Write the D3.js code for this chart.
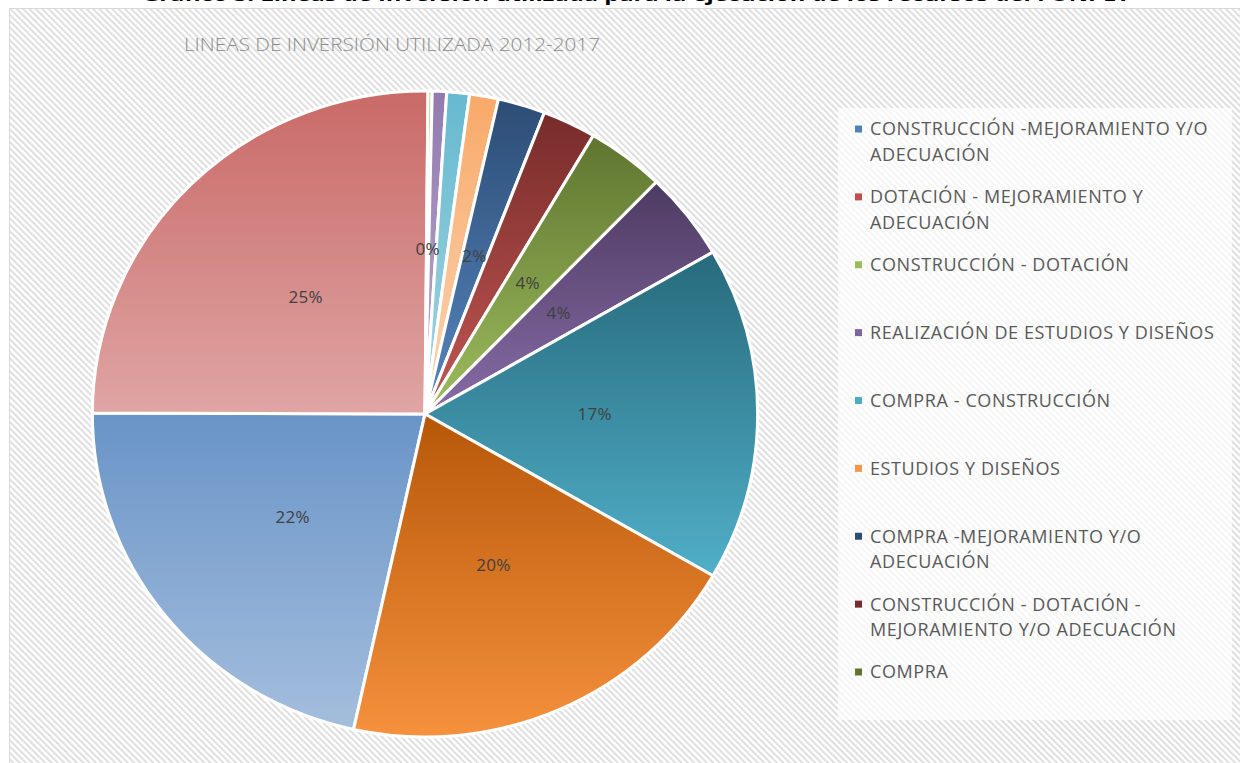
<!DOCTYPE html>
<html>
<head>
<meta charset="utf-8">
<title>Líneas de inversión utilizada 2012-2017</title>
<script src="https://d3js.org/d3.v7.min.js"></script>
<style>
	body { margin: 0; background: #ffffff; overflow: hidden; }
	svg { display: block; }
	.lbl { font-family: 'Open Sans', sans-serif; font-size: 17px; fill: #404040; letter-spacing: 0.3px; }
	.leg { font-family: 'Open Sans', sans-serif; font-size: 18px; fill: #595959; letter-spacing: 0.6px; }
</style>
</head>
<body>
<div id="chart"></div>
<script>

// legend names (the legend box only fits the first 9 entries)
var legendNames = [
	"CONSTRUCCIÓN -MEJORAMIENTO Y/O ADECUACIÓN",
	"DOTACIÓN - MEJORAMIENTO Y ADECUACIÓN",
	"CONSTRUCCIÓN - DOTACIÓN",
	"REALIZACIÓN DE ESTUDIOS Y DISEÑOS",
	"COMPRA - CONSTRUCCIÓN",
	"ESTUDIOS Y DISEÑOS",
	"COMPRA -MEJORAMIENTO Y/O ADECUACIÓN",
	"CONSTRUCCIÓN - DOTACIÓN - MEJORAMIENTO Y/O ADECUACIÓN",
	"COMPRA"
];

// share of investment per line (%)
var values = [21.6, 25.1, 0.2, 0.7, 1.1, 1.4, 2.3, 2.6, 3.8, 4.4, 16.7, 20.1];

// which slices carry a data label in the original
var showLabel = [true, true, true, false, false, false, true, false, true, true, true, true];

// office 2007 palette, points 7-12 are the darker shades
var colors = ["#4F81BD", "#C0504D", "#9BBB59", "#8064A2", "#4BACC6", "#F79646",
              "#2C4D75", "#772C2A", "#5F7530", "#4D3B62", "#276A7C", "#B65708"];

var title = "Gráfico 3. Líneas de Inversión utilizada para la ejecución de los recursos del FONPET";
var chartTitle = "LINEAS DE INVERSIÓN UTILIZADA 2012-2017";

var width = 1240, height = 763;

var svg = d3.select("#chart").append("svg")
	.attr("width", width)
	.attr("height", height);

var defs = svg.append("defs");

// diagonal hatch of the chart area
var hatch = defs.append("pattern")
	.attr("id", "hatch")
	.attr("patternUnits", "userSpaceOnUse")
	.attr("width", 4.5)
	.attr("height", 4.5)
	.attr("patternTransform", "rotate(-45)");
hatch.append("rect").attr("width", 4.5).attr("height", 4.5).attr("fill", "#ffffff");
hatch.append("rect").attr("width", 2).attr("height", 4.5).attr("fill", "#dfdfdf");

// one vertical gradient per slice, dark on top, light at the bottom
colors.forEach(function(c, i) {
	var top = d3.hsl(c), bottom = d3.hsl(c);
	top.l = Math.min(top.l + (i < 6 ? 0.07 : 0.0), 0.9);
	bottom.l = Math.min(bottom.l + 0.23, 0.92);
	var g = defs.append("linearGradient")
		.attr("id", "grad" + i)
		.attr("x1", 0).attr("y1", 0).attr("x2", 0).attr("y2", 1);
	g.append("stop").attr("offset", "0%").attr("stop-color", top.formatHex());
	g.append("stop").attr("offset", "100%").attr("stop-color", bottom.formatHex());
});

// page title, cut off by the top of the picture
svg.append("text")
	.attr("x", 142)
	.attr("y", 1)
	.attr("textLength", 988)
	.attr("lengthAdjust", "spacingAndGlyphs")
	.style("font-family", "'Open Sans', sans-serif")
	.style("font-weight", "bold")
	.style("font-size", "18px")
	.style("fill", "#000")
	.text(title);

// chart area
svg.append("rect")
	.attr("x", 9.5)
	.attr("y", 8.5)
	.attr("width", width)
	.attr("height", height)
	.attr("fill", "url(#hatch)")
	.attr("stroke", "#d9d9d9")
	.attr("stroke-width", 1);

svg.append("text")
	.attr("x", 184)
	.attr("y", 51)
	.attr("textLength", 416)
	.attr("lengthAdjust", "spacingAndGlyphs")
	.style("font-family", "'Open Sans', sans-serif")
	.style("font-size", "18px")
	.style("font-weight", 300)
	.style("fill", "#8c8c8c")
	.text(chartTitle);

// pie
var cx = 425, cy = 414, radius = 323, stretchX = 1.03;
var firstSliceAngle = 192.4; // degrees, like excel's rotation setting
var a0 = firstSliceAngle * Math.PI / 180;
var total = d3.sum(values);

var pie = d3.pie().sort(null)
	.startAngle(a0)
	.endAngle(a0 + 2 * Math.PI);

var arc = d3.arc().innerRadius(0).outerRadius(radius);
var labelArc = d3.arc().innerRadius(radius * 0.51).outerRadius(radius * 0.51);

var arcs = pie(values);

var gPie = svg.append("g")
	.attr("transform", "translate(" + cx + "," + cy + ") scale(" + stretchX + ",1)");

gPie.selectAll("path")
	.data(arcs).enter()
	.append("path")
	.attr("d", arc)
	.attr("fill", function(d, i) { return "url(#grad" + i + ")"; })
	.attr("stroke", "#ffffff")
	.attr("stroke-width", 3)
	.attr("stroke-linejoin", "round");

var pct = d3.format(".0%");

svg.append("g")
	.attr("transform", "translate(" + cx + "," + cy + ")")
	.selectAll("text")
	.data(arcs.filter(function(d, i) { return showLabel[i]; })).enter()
	.append("text")
	.attr("class", "lbl")
	.attr("x", function(d) { return labelArc.centroid(d)[0] * stretchX; })
	.attr("y", function(d) { return labelArc.centroid(d)[1]; })
	.attr("text-anchor", "middle")
	.attr("dy", "0.35em")
	.text(function(d) { return pct(d.value / total); });

// legend
svg.append("rect")
	.attr("x", 838)
	.attr("y", 108)
	.attr("width", 394)
	.attr("height", 612)
	.attr("fill", "#ffffff")
	.attr("fill-opacity", 0.68);

var legendY = d3.scaleLinear().domain([0, legendNames.length - 1]).range([129, 672]);
var lineHeight = 25.5, wrapWidth = 360;

var legend = svg.append("g").selectAll("g")
	.data(legendNames).enter()
	.append("g")
	.attr("transform", function(d, i) { return "translate(855," + legendY(i) + ")"; });

legend.append("rect")
	.attr("x", 0)
	.attr("y", -3.5)
	.attr("width", 7)
	.attr("height", 7)
	.attr("fill", function(d, i) { return colors[i]; });

legend.each(function(name) {
	var t = d3.select(this).append("text").attr("class", "leg");
	var words = name.split(" "), line = [], n = 0;
	var tspan = t.append("tspan").attr("x", 15).attr("y", 0).attr("dy", "0.36em");
	words.forEach(function(w) {
		line.push(w);
		tspan.text(line.join(" "));
		if (tspan.node().getComputedTextLength() > wrapWidth && line.length > 1) {
			line.pop();
			tspan.text(line.join(" "));
			line = [w];
			n++;
			tspan = t.append("tspan")
				.attr("x", 15)
				.attr("y", n * lineHeight)
				.attr("dy", "0.36em")
				.text(w);
		}
	});
});

</script>
</body>
</html>
